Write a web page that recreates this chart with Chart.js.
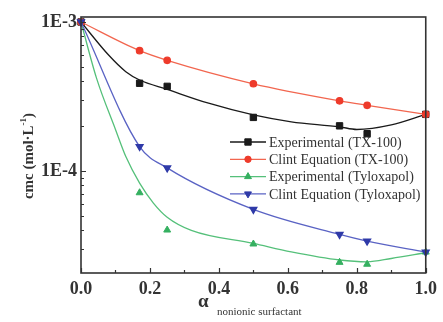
<!DOCTYPE html>
<html>
<head>
<meta charset="utf-8">
<script src="https://cdn.jsdelivr.net/npm/chart.js@4"></script>
<style>
  html, body { margin: 0; padding: 0; background: #fff; }
  #wrap { width: 443px; height: 322px; }
</style>
</head>
<body>
<div id="wrap"><canvas id="cmcChart" width="443" height="322"></canvas></div>
<script>
// alpha (mole fraction of nonionic surfactant) where the markers sit
const alphaPoints = [0, 0.17, 0.25, 0.5, 0.75, 0.83, 1.0];

// cmc values (mol/L)
const expTX100 = [1.0e-3, 3.88e-4, 3.70e-4, 2.29e-4, 2.01e-4, 1.78e-4, 2.40e-4];
const clintTX100 = [1.0e-3, 6.42e-4, 5.53e-4, 3.85e-4, 2.96e-4, 2.76e-4, 2.40e-4];
const expTylox = [1.0e-3, 7.15e-5, 4.02e-5, 3.24e-5, 2.44e-5, 2.37e-5, 2.86e-5];
const clintTylox = [1.0e-3, 1.46e-4, 1.05e-4, 5.53e-5, 3.76e-5, 3.39e-5, 2.86e-5];

// fitted curves drawn through the experimental points
const fitAlphaTX = [0, 0.08, 0.13, 0.17, 0.25, 0.37, 0.5, 0.61, 0.75, 0.8, 0.9, 1.0];
const fitTX100 = [1.0e-3, 6.0e-4, 4.64e-4, 4.08e-4, 3.53e-4, 2.85e-4, 2.38e-4, 2.14e-4, 1.98e-4, 1.90e-4, 2.04e-4, 2.40e-4];
const fitAlphaTy = [0, 0.045, 0.10, 0.13, 0.17, 0.21, 0.25, 0.32, 0.5, 0.61, 0.75, 0.83, 0.9, 1.0];
const fitTylox = [1.0e-3, 4.2e-4, 1.9e-4, 1.25e-4, 8.3e-5, 6.1e-5, 4.9e-5, 4.0e-5, 3.27e-5, 2.87e-5, 2.53e-5, 2.46e-5, 2.59e-5, 2.83e-5];

// axis ticks
const xTicks = [0, 0.2, 0.4, 0.6, 0.8, 1.0];
const yTickValues = [1e-4, 1e-3];
const yTickLabels = ['1E-4', '1E-3'];

const seriesNames = ['Experimental (TX-100)', 'Clint Equation (TX-100)', 'Experimental (Tyloxapol)', 'Clint Equation (Tyloxapol)'];

const SERIF = '"Liberation Serif", "Times New Roman", serif';
const colors = {
    black: '#1a1a1a',
    red: '#ee3b2b',
    redLine: '#f2664f',
    green: '#35b060',
    greenLine: '#55c07a',
    blue: '#2f3aa8',
    blueLine: '#5a63c4'
};

function xy(xs, ys) {
    return xs.map((x, i) => ({ x: x, y: ys[i] }));
}

// Legend entries (line + marker) in the order of the picture
const legendItems = [
    { text: seriesNames[0], line: colors.black, fill: colors.black, style: 'rect', radius: 4.5, rot: 0 },
    { text: seriesNames[1], line: colors.redLine, fill: colors.red, style: 'circle', radius: 3.2, rot: 0 },
    { text: seriesNames[2], line: colors.greenLine, fill: colors.green, style: 'triangle', radius: 4, rot: 0 },
    { text: seriesNames[3], line: colors.blueLine, fill: colors.blue, style: 'triangle', radius: 4, rot: 180 }
];

const framePlugin = {
    id: 'framePlugin',
    afterDraw(chart) {
        const ctx = chart.ctx;
        const area = chart.chartArea;
        const xs = chart.scales.x;
        const ys = chart.scales.y;
        ctx.save();

        // frame
        ctx.strokeStyle = '#333333';
        ctx.lineWidth = 1.6;
        ctx.strokeRect(area.left, area.top, area.right - area.left, area.bottom - area.top);

        // x ticks (inside)
        ctx.lineWidth = 1.2;
        ctx.beginPath();
        for (let i = 0; i <= 10; i++) {
            const px = Math.round(xs.getPixelForValue(i / 10)) + 0.5;
            ctx.moveTo(px, area.bottom);
            ctx.lineTo(px, area.bottom - (i % 2 === 0 ? 5 : 3));
        }
        // y ticks (inside, log minor)
        [1e-5, 1e-4].forEach(dec => {
            for (let k = 1; k <= 9; k++) {
                const v = dec * k;
                if (v < ys.min || v > ys.max) continue;
                const py = Math.round(ys.getPixelForValue(v)) + 0.5;
                ctx.moveTo(area.left, py);
                ctx.lineTo(area.left + (k === 1 ? 5 : 3), py);
            }
        });
        const topPy = Math.round(ys.getPixelForValue(1e-3)) + 0.5;
        ctx.moveTo(area.left, topPy);
        ctx.lineTo(area.left + 5, topPy);
        ctx.stroke();

        // legend
        const lx0 = 230, lx1 = 266, mx = 248, tx = 269;
        let ly = 142;
        ctx.font = '14px ' + SERIF;
        ctx.textBaseline = 'middle';
        legendItems.forEach(item => {
            ctx.strokeStyle = item.line;
            ctx.lineWidth = 1.3;
            ctx.beginPath();
            ctx.moveTo(lx0, ly);
            ctx.lineTo(lx1, ly);
            ctx.stroke();
            ctx.fillStyle = item.fill;
            ctx.strokeStyle = item.fill;
            ctx.lineWidth = 1;
            Chart.helpers.drawPoint(ctx, { pointStyle: item.style, radius: item.radius, rotation: item.rot, borderWidth: 1 }, mx, ly);
            ctx.fillStyle = '#333';
            ctx.fillText(item.text, tx, ly + 1);
            ly += 17.3;
        });

        // y axis title: cmc (mol·L^-1)
        ctx.save();
        ctx.translate(28, 156);
        ctx.rotate(-Math.PI / 2);
        ctx.fillStyle = '#333';
        ctx.textBaseline = 'alphabetic';
        const mainFont = 'bold 15px ' + SERIF;
        const supFont = 'bold 9px ' + SERIF;
        const partA = 'cmc (mol\u00b7L';
        const partB = '-1';
        const partC = ')';
        ctx.font = mainFont;
        const wA = ctx.measureText(partA).width;
        const wC = ctx.measureText(partC).width;
        ctx.font = supFont;
        const wB = ctx.measureText(partB).width;
        let cx = -(wA + wB + wC) / 2;
        ctx.font = mainFont;
        ctx.fillText(partA, cx, 5);
        cx += wA;
        ctx.font = supFont;
        ctx.fillText(partB, cx, -2);
        cx += wB;
        ctx.font = mainFont;
        ctx.fillText(partC, cx, 5);
        ctx.restore();

        // x axis title: alpha with subscript
        ctx.fillStyle = '#333';
        ctx.textBaseline = 'alphabetic';
        ctx.font = 'bold 19px ' + SERIF;
        ctx.fillText('\u03b1', 198, 307);
        ctx.font = '11px ' + SERIF;
        ctx.fillText('nonionic surfactant', 217, 315);

        ctx.restore();
    }
};

const ctx = document.getElementById('cmcChart').getContext('2d');
const cmcChart = new Chart(ctx, {
    type: 'line',
    data: {
        datasets: [
            // Clint Equation (Tyloxapol)
            {
                data: xy(alphaPoints, clintTylox),
                borderColor: colors.blueLine,
                borderWidth: 1.3,
                backgroundColor: colors.blue,
                pointBackgroundColor: colors.blue,
                pointBorderColor: colors.blue,
                pointStyle: 'triangle',
                pointRotation: 180,
                pointRadius: 4,
                tension: 0.4,
                cubicInterpolationMode: 'monotone',
                clip: false
            },
            // Clint Equation (TX-100)
            {
                data: xy(alphaPoints, clintTX100),
                borderColor: colors.redLine,
                borderWidth: 1.3,
                backgroundColor: colors.red,
                pointBackgroundColor: colors.red,
                pointBorderColor: colors.red,
                pointStyle: 'circle',
                pointRadius: 3.2,
                tension: 0.4,
                cubicInterpolationMode: 'monotone',
                clip: false
            },
            // Experimental (Tyloxapol) markers
            {
                data: xy(alphaPoints, expTylox),
                showLine: false,
                backgroundColor: colors.green,
                pointBackgroundColor: colors.green,
                pointBorderColor: colors.green,
                pointStyle: 'triangle',
                pointRadius: 4,
                clip: false
            },
            // Experimental (TX-100) markers
            {
                data: xy(alphaPoints, expTX100),
                showLine: false,
                backgroundColor: colors.black,
                pointBackgroundColor: colors.black,
                pointBorderColor: colors.black,
                pointStyle: 'rect',
                pointRadius: 4.5,
                clip: false
            },
            // fitted curve, Tyloxapol
            {
                data: xy(fitAlphaTy, fitTylox),
                borderColor: colors.greenLine,
                borderWidth: 1.3,
                pointRadius: 0,
                cubicInterpolationMode: 'monotone'
            },
            // fitted curve, TX-100
            {
                data: xy(fitAlphaTX, fitTX100),
                borderColor: colors.black,
                borderWidth: 1.3,
                pointRadius: 0,
                cubicInterpolationMode: 'monotone'
            }
        ]
    },
    options: {
        responsive: false,
        animation: false,
        events: [],
        layout: { padding: { top: 17, right: 15, left: 0, bottom: 0 } },
        plugins: {
            legend: { display: false },
            tooltip: { enabled: false }
        },
        scales: {
            x: {
                type: 'linear',
                min: 0,
                max: 1,
                afterFit: scale => { scale.height = 49; },
                afterBuildTicks: scale => { scale.ticks = xTicks.map(v => ({ value: v })); },
                grid: { display: false, drawTicks: false },
                border: { display: false },
                ticks: {
                    autoSkip: false,
                    maxRotation: 0,
                    padding: 6,
                    color: '#333',
                    font: { family: SERIF, size: 18, weight: 'bold' },
                    callback: v => v.toFixed(1)
                }
            },
            y: {
                type: 'logarithmic',
                min: 2.07e-5,
                max: 1.08e-3,
                afterFit: scale => { scale.width = 81; },
                afterBuildTicks: scale => { scale.ticks = yTickValues.map(v => ({ value: v })); },
                grid: { display: false, drawTicks: false },
                border: { display: false },
                ticks: {
                    autoSkip: false,
                    padding: 4,
                    color: '#333',
                    font: { family: SERIF, size: 18, weight: 'bold' },
                    callback: v => {
                        const i = yTickValues.findIndex(t => Math.abs(t - v) / t < 1e-6);
                        return i >= 0 ? yTickLabels[i] : '';
                    }
                }
            }
        }
    },
    plugins: [framePlugin]
});
</script>
</body>
</html>
